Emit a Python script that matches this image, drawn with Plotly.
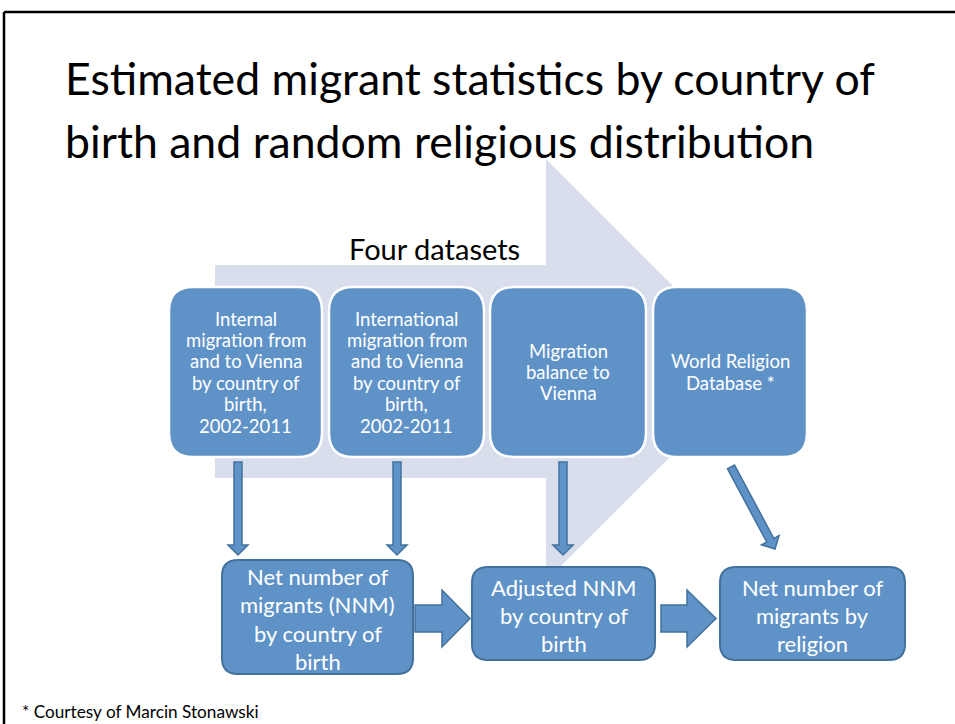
import plotly.graph_objects as go
import math

# ---- content ----
title_lines = ["Estimated migrant statistics by country of",
               "birth and random religious distribution"]
banner_label = "Four datasets"
top_labels = [
    ["Internal", "migration from", "and to Vienna", "by country of", "birth,", "2002-2011"],
    ["International", "migration from", "and to Vienna", "by country of", "birth,", "2002-2011"],
    ["Migration", "balance to", "Vienna"],
    ["World Religion", "Database *"],
]
bottom_labels = [
    ["Net number of", "migrants (NNM)", "by country of", "birth"],
    ["Adjusted NNM", "by country of", "birth"],
    ["Net number of", "migrants by", "religion"],
]
footnote = "* Courtesy of Marcin Stonawski"

# ---- layout geometry (pixels) ----
W, H = 955, 724
FONT = "Lato"
FILL = "#5F93C8"
EDGE = "#41719C"
SHADE = "#D9DEEC"

top_boxes = [(169, 287, 322, 457), (329, 287, 484, 457), (490, 287, 646, 457), (653, 287, 807, 457)]
bottom_boxes = [(222, 560, 413, 674), (472, 567, 655, 660), (720, 567, 905, 660)]

shapes = []
annotations = []


def rrect(x0, y0, x1, y1, r):
    return (f"M{x0+r},{y0} L{x1-r},{y0} Q{x1},{y0} {x1},{y0+r} "
            f"L{x1},{y1-r} Q{x1},{y1} {x1-r},{y1} L{x0+r},{y1} "
            f"Q{x0},{y1} {x0},{y1-r} L{x0},{y0+r} Q{x0},{y0} {x0+r},{y0} Z")


def poly(pts):
    return "M" + " L".join(f"{x:.2f},{y:.2f}" for x, y in pts) + " Z"


def arrow_pts(x0, y0, x1, y1, shaft_w, head_w, head_len):
    dx, dy = x1 - x0, y1 - y0
    L = math.hypot(dx, dy)
    ux, uy = dx / L, dy / L
    px, py = -uy, ux
    local = [(0, -shaft_w / 2), (L - head_len, -shaft_w / 2), (L - head_len, -head_w / 2),
             (L, 0), (L - head_len, head_w / 2), (L - head_len, shaft_w / 2), (0, shaft_w / 2)]
    return [(x0 + a * ux + b * px, y0 + a * uy + b * py) for a, b in local]


def add_lines(lines, cx, cy, spacing, size, color, anchor="center"):
    n = len(lines)
    for i, t in enumerate(lines):
        y = cy + (i - (n - 1) / 2) * spacing
        annotations.append(dict(x=cx, y=y, xref="x", yref="y", text=t, showarrow=False,
                                xanchor=anchor, yanchor="middle",
                                font=dict(family=FONT, size=size, color=color)))


# frame
shapes.append(dict(type="line", x0=4, y0=12, x1=W + 5, y1=12, line=dict(color="black", width=2.5)))
shapes.append(dict(type="line", x0=4, y0=12, x1=4, y1=H + 5, line=dict(color="black", width=2.5)))

# big background arrow
shapes.append(dict(type="path", path=poly([(215, 265), (546, 265), (546, 159), (757, 370),
                                            (546, 581), (546, 478), (215, 478)]),
                   fillcolor=SHADE, line=dict(width=0), layer="below"))

# top boxes
for (x0, y0, x1, y1), lab in zip(top_boxes, top_labels):
    shapes.append(dict(type="path", path=rrect(x0, y0, x1, y1, 24), fillcolor=FILL,
                       line=dict(color="white", width=2.5)))
    add_lines(lab, (x0 + x1) / 2, (y0 + y1) / 2, 21.4, 18.5, "white")

# thin down arrows
thin = [(238, 462, 238, 555), (397, 462, 397, 555), (563, 462, 563, 555), (731, 467, 775, 549)]
for a in thin:
    shapes.append(dict(type="path", path=poly(arrow_pts(*a, 8, 20, 10)), fillcolor=FILL,
                       line=dict(color=EDGE, width=1.5)))

# bottom boxes
for (x0, y0, x1, y1), lab in zip(bottom_boxes, bottom_labels):
    shapes.append(dict(type="path", path=rrect(x0, y0, x1, y1, 16), fillcolor=FILL,
                       line=dict(color=EDGE, width=2)))
    add_lines(lab, (x0 + x1) / 2, (y0 + y1) / 2 + 2, 28.3, 22, "white")

# block arrows
for x0, xh, x1 in [(415, 442, 470), (661, 687, 716)]:
    pts = [(x0, 605), (xh, 605), (xh, 590), (x1, 618.5), (xh, 647), (xh, 632), (x0, 632)]
    shapes.append(dict(type="path", path=poly(pts), fillcolor=FILL, line=dict(color=EDGE, width=1.5)))

# texts
for i, t in enumerate(title_lines):
    annotations.append(dict(x=63, y=77 + i * 63, xref="x", yref="y", text=t, showarrow=False,
                            xanchor="left", yanchor="middle",
                            font=dict(family=FONT, size=44.6, color="black")))
annotations.append(dict(x=434, y=248, xref="x", yref="y", text=banner_label, showarrow=False,
                        xanchor="center", yanchor="middle", font=dict(family=FONT, size=29, color="black")))
annotations.append(dict(x=20, y=711, xref="x", yref="y", text=footnote, showarrow=False,
                        xanchor="left", yanchor="middle", font=dict(family=FONT, size=17.2, color="black")))

fig = go.Figure()
fig.update_layout(
    width=W, height=H, margin=dict(l=0, r=0, t=0, b=0),
    paper_bgcolor="white", plot_bgcolor="white",
    xaxis=dict(range=[0, W], visible=False, fixedrange=True),
    yaxis=dict(range=[H, 0], visible=False, fixedrange=True),
    shapes=shapes, annotations=annotations, showlegend=False,
)
fig.write_html("out.html", config={"displayModeBar": False},
               post_script="document.body.style.margin='0';document.body.style.overflow='hidden';")
